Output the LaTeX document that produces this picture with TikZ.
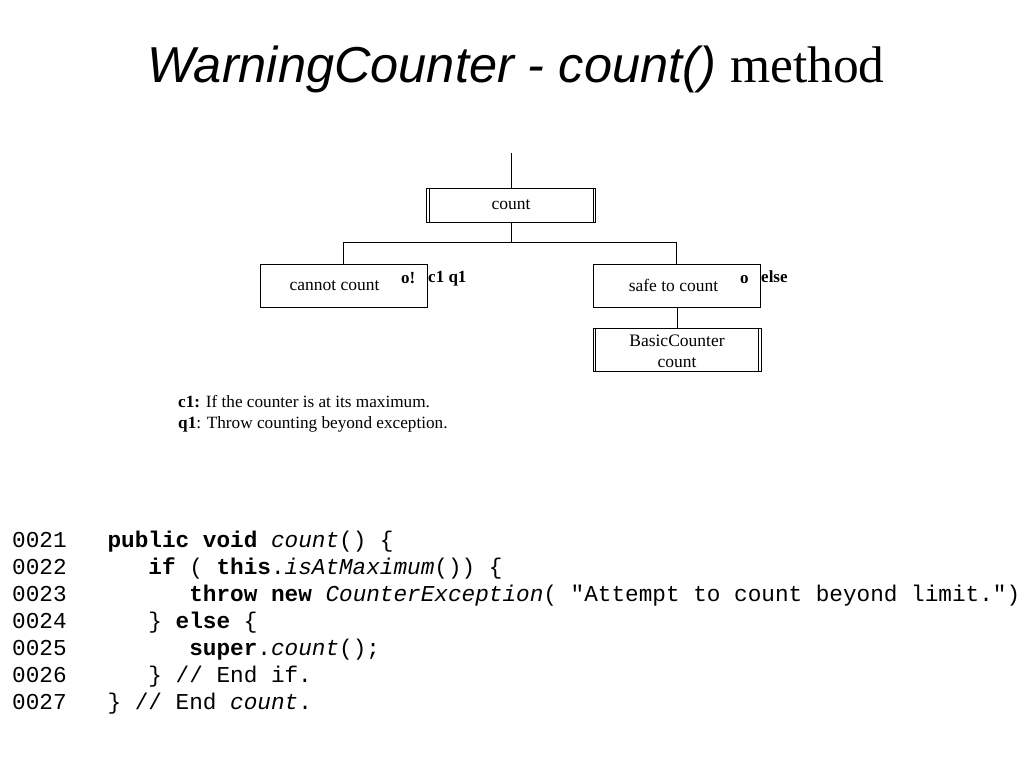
\documentclass[tikz,border=0pt]{standalone}
\usepackage{fontspec}
\setmainfont{Liberation Serif}
\newfontfamily\titlesans{Liberation Sans}
\newfontfamily\codefont{Liberation Mono}
\begin{document}
\begin{tikzpicture}[x=1pt,y=-1pt,
  box/.style={draw,line width=0.8pt,minimum width=167pt,inner sep=0pt,font=\fontsize{17.5}{21}\selectfont,align=center},
  conn/.style={line width=0.8pt},
  tag/.style={anchor=base west,inner sep=0pt,font=\fontsize{17}{19}\selectfont\bfseries},
  legend/.style={anchor=base west,inner sep=0pt,font=\fontsize{17.2}{20}\selectfont},
  codeln/.style={anchor=base west,inner sep=0pt,font=\codefont\fontsize{22.7}{27}\selectfont}]
\useasboundingbox[fill=white] (0,0) rectangle (1024,768);
% title
\node[anchor=base west,inner sep=0pt] (title) at (147,82)
  {{\titlesans\itshape\fontsize{50.5}{55}\selectfont WarningCounter - count() }{\fontsize{51.5}{55}\selectfont method}};
% diagram
\coordinate (top) at (511,153);
\node[box,minimum height=34pt,minimum width=169pt] (cnt) at (511,205) {\raisebox{-2pt}{count}};
\node[box,minimum height=43pt] (cannot) at (343.5,285.5) {\kern-18pt\raisebox{-3pt}{cannot count}};
\node[box,minimum height=43pt] (safe) at (676.5,285.5) {\kern-6pt\raisebox{-3pt}{safe to count}};
\node[box,minimum height=43pt,minimum width=168pt] (basic) at (677,349.5) {\rule{0pt}{16pt}BasicCounter\\count};
% double sides
\draw[conn] ([xshift=3pt]cnt.north west) -- ([xshift=3pt]cnt.south west);
\draw[conn] ([xshift=-3pt]cnt.north east) -- ([xshift=-3pt]cnt.south east);
\draw[conn] ([xshift=3pt]basic.north west) -- ([xshift=3pt]basic.south west);
\draw[conn] ([xshift=-3pt]basic.north east) -- ([xshift=-3pt]basic.south east);
% connectors
\draw[conn] (top) -- (cnt.north);
\coordinate (junc) at (511,242);
\draw[conn] (cnt.south) -- (junc);
\draw[conn] (junc) -| (cannot.north);
\draw[conn] (junc) -| (safe.north);
\coordinate (safebot) at (677,307);
\draw[conn] (safebot) -- (basic.north);
% tags
\node[tag] (o1) at (401,283) {o!};
\node[tag] (c1q1) at (428,282) {c1 q1};
\node[tag] (o2) at (740,283) {o};
\node[tag] (els) at (761,282) {else};
% legend
\node[legend] (leg1) at (178,407) {\textbf{c1:} If the counter is at its maximum.};
\node[legend] (leg2) at (178,428) {\textbf{q1}: Throw counting beyond exception.};
% code
\node[codeln] (l21) at (12,547) {0021~~~\textbf{public}~\textbf{void}~\textit{count}()~\{};
\node[codeln] (l22) at (12,574) {0022~~~~~~\textbf{if}~(~\textbf{this}.\textit{isAtMaximum}())~\{};
\node[codeln] (l23) at (12,601) {0023~~~~~~~~~\textbf{throw}~\textbf{new}~\textit{CounterException}(~"Attempt~to~count~beyond~limit.")};
\node[codeln] (l24) at (12,628) {0024~~~~~~\}~\textbf{else}~\{};
\node[codeln] (l25) at (12,655) {0025~~~~~~~~~\textbf{super}.\textit{count}();};
\node[codeln] (l26) at (12,682) {0026~~~~~~\}~//~End~if.};
\node[codeln] (l27) at (12,709) {0027~~~\}~//~End~\textit{count}.};
\end{tikzpicture}
\end{document}
